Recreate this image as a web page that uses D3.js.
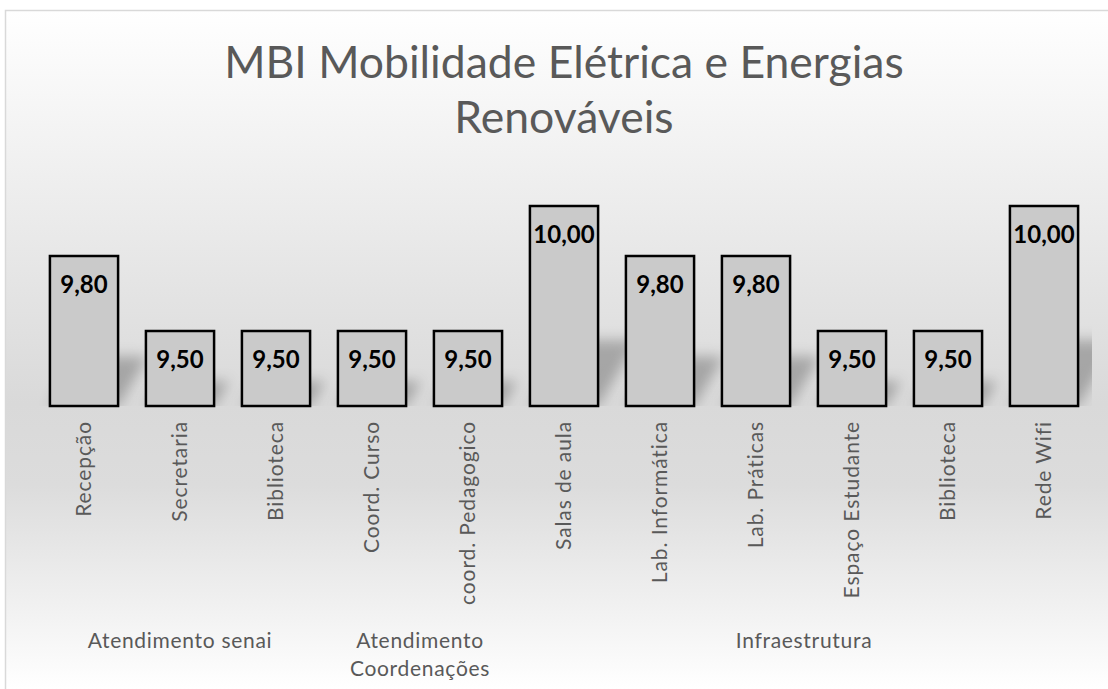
<!DOCTYPE html>
<html lang="pt">
<head>
<meta charset="UTF-8">
<title>MBI Mobilidade Elétrica e Energias Renováveis</title>
<script src="https://d3js.org/d3.v7.min.js"></script>
<style>
    body { margin: 0; background: #fff; }
    svg { display: block; font-family: Lato, "Open Sans", sans-serif; }
</style>
</head>
<body>
<div id="chart"></div>
<script>
// data
const categories = ["Recepção", "Secretaria", "Biblioteca", "Coord. Curso", "coord. Pedagogico",
    "Salas de aula", "Lab. Informática", "Lab. Práticas", "Espaço Estudante", "Biblioteca", "Rede Wifi"];
const values = [9.80, 9.50, 9.50, 9.50, 9.50, 10.00, 9.80, 9.80, 9.50, 9.50, 10.00];
const groupNames = [["Atendimento senai"], ["Atendimento", "Coordenações"], ["Infraestrutura"]];
const groupSizes = [3, 2, 6];
const titleLines = ["MBI Mobilidade Elétrica e Energias", "Renováveis"];

const W = 1108, H = 689;
const plot = { left: 36, right: 1092, top: 156, bottom: 406 };

const svg = d3.select("#chart").append("svg")
    .attr("width", W).attr("height", H);

const defs = svg.append("defs");

// chart background gradient (light at top/bottom, darker around the floor)
const bg = defs.append("linearGradient")
    .attr("id", "bg")
    .attr("gradientUnits", "userSpaceOnUse")
    .attr("x1", 0).attr("y1", 10).attr("x2", 0).attr("y2", H);
bg.append("stop").attr("offset", 0).attr("stop-color", "#ffffff");
bg.append("stop").attr("offset", 0.58).attr("stop-color", "#d9d9d9");
bg.append("stop").attr("offset", 0.70).attr("stop-color", "#dcdcdc");
bg.append("stop").attr("offset", 1).attr("stop-color", "#ffffff");

const blur = defs.append("filter").attr("id", "soft")
    .attr("x", "-50%").attr("y", "-50%").attr("width", "200%").attr("height", "200%");
blur.append("feGaussianBlur").attr("stdDeviation", 6.5);

defs.append("clipPath").attr("id", "plotClip")
    .append("rect")
    .attr("x", plot.left).attr("y", 0)
    .attr("width", plot.right - plot.left).attr("height", plot.bottom);

// frame (continues past the right/bottom edge of the picture)
svg.append("rect")
    .attr("x", 5.5).attr("y", 10.5)
    .attr("width", W + 20).attr("height", H + 20)
    .attr("fill", "url(#bg)")
    .attr("stroke", "#d9d9d9").attr("stroke-width", 1.5);

// scales
const x = d3.scaleBand()
    .domain(d3.range(categories.length))
    .range([plot.left, plot.right])
    .paddingInner(0.29)
    .paddingOuter(0.145);

const y = d3.scaleLinear()
    .domain([9.2, 10.2])
    .range([plot.bottom, plot.top]);

const fmt = v => d3.format(".2f")(v).replace(".", ",");

// perspective shadows behind the bars
const shadowG = svg.append("g").attr("clip-path", "url(#plotClip)");
shadowG.selectAll("path")
    .data(values)
    .join("path")
    .attr("filter", "url(#soft)")
    .attr("fill", "rgba(0,0,0,0.25)")
    .attr("d", (d, i) => {
        const x0 = x(i), x1 = x(i) + x.bandwidth();
        const b = y(y.domain()[0]);
        const h = b - y(d);
        const dx = h * 0.2, dy = h * 0.33;
        return `M${x0},${b}L${x1},${b}L${x1 + dx},${b - dy}L${x0 + dx},${b - dy}Z`;
    });

// bars
svg.append("g").selectAll("rect")
    .data(values)
    .join("rect")
    .attr("x", (d, i) => x(i))
    .attr("y", d => y(d))
    .attr("width", x.bandwidth())
    .attr("height", d => y(y.domain()[0]) - y(d))
    .attr("fill", "#cacaca")
    .attr("stroke", "#000")
    .attr("stroke-width", 2.5);

// value labels
svg.append("g").selectAll("text")
    .data(values)
    .join("text")
    .attr("x", (d, i) => x(i) + x.bandwidth() / 2)
    .attr("y", d => y(d) + 37)
    .attr("text-anchor", "middle")
    .attr("font-size", 24)
    .attr("font-weight", 700)
    .attr("fill", "#000")
    .text(fmt);

// category labels (rotated)
const xAxis = svg.append("g")
    .attr("transform", `translate(0,${plot.bottom})`)
    .call(d3.axisBottom(x).tickSize(0).tickFormat(i => categories[i]));
xAxis.select(".domain").remove();
xAxis.selectAll("text")
    .attr("transform", "rotate(-90)")
    .attr("text-anchor", "end")
    .attr("x", -15)
    .attr("y", 0)
    .attr("dy", "0.35em")
    .attr("font-size", 21)
    .attr("letter-spacing", 0.9)
    .attr("font-family", "Lato, 'Open Sans', sans-serif")
    .attr("fill", "#595959");

// group labels
let start = 0;
const groupData = groupSizes.map((n, g) => {
    const first = start, last = start + n - 1;
    start += n;
    return { lines: groupNames[g], cx: (x(first) + x(last) + x.bandwidth()) / 2 };
});
const gl = svg.append("g").selectAll("text")
    .data(groupData)
    .join("text")
    .attr("x", d => d.cx)
    .attr("y", 648)
    .attr("text-anchor", "middle")
    .attr("font-size", 21)
    .attr("letter-spacing", 0.7)
    .attr("fill", "#595959");
gl.selectAll("tspan")
    .data(d => d.lines.map(t => ({ t, cx: d.cx })))
    .join("tspan")
    .attr("x", d => d.cx)
    .attr("dy", (d, i) => i ? 28 : 0)
    .text(d => d.t);

// title
svg.append("g").selectAll("text")
    .data(titleLines)
    .join("text")
    .attr("x", 564)
    .attr("y", (d, i) => 78 + i * 55)
    .attr("text-anchor", "middle")
    .attr("font-size", 44.5)
    .attr("font-weight", 400)
    .attr("fill", "#595959")
    .text(d => d);
</script>
</body>
</html>
